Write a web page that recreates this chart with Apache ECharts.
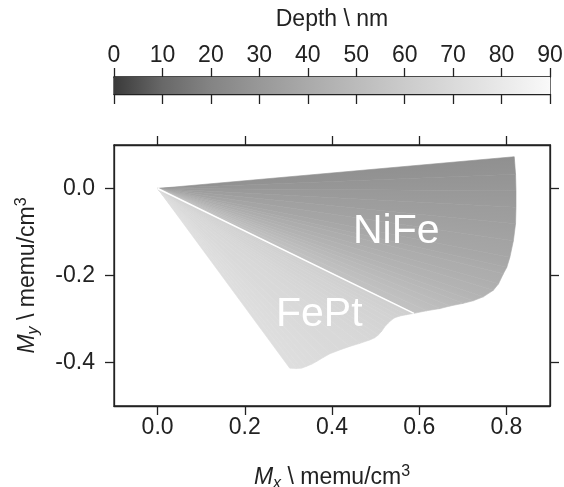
<!DOCTYPE html>
<html>
<head>
<meta charset="utf-8">
<script src="https://cdn.jsdelivr.net/npm/echarts@6/dist/echarts.min.js"></script>
<style>
  html, body { margin: 0; padding: 0; background: #fff; }
  #chart { width: 564px; height: 487px; }
</style>
</head>
<body>
<div id="chart"></div>
<script>
// Magnetisation vector tips (memu/cm3) and the depth (nm) of each layer slice.
// Every vector starts at the origin; the fan between neighbours is shaded by depth.
const nifeMx    = [0.818, 0.821, 0.822, 0.822, 0.821, 0.816, 0.808, 0.801, 0.793, 0.782, 0.770, 0.747, 0.724, 0.701, 0.671, 0.648, 0.617, 0.588];
const nifeMy    = [0.073, 0.033, -0.005, -0.043, -0.081, -0.120, -0.158, -0.181, -0.196, -0.219, -0.234, -0.249, -0.258, -0.264, -0.270, -0.276, -0.281, -0.287];
const nifeDepth = [26, 28, 30, 32, 34, 36, 38, 39.5, 41, 42.5, 44, 45.5, 47, 48.5, 50, 51.5, 53, 54.5];

const feptMx    = [0.588, 0.571, 0.556, 0.544, 0.537, 0.529, 0.521, 0.514, 0.506, 0.498, 0.487, 0.464, 0.441, 0.418, 0.395, 0.379, 0.364, 0.353, 0.341, 0.330, 0.318, 0.303];
const feptMy    = [-0.287, -0.290, -0.293, -0.297, -0.302, -0.309, -0.318, -0.328, -0.337, -0.343, -0.348, -0.356, -0.363, -0.371, -0.380, -0.389, -0.398, -0.404, -0.409, -0.413, -0.414, -0.413];
const feptDepth = [63, 63.5, 64, 64.5, 65, 65.5, 66, 66.5, 67, 67.5, 68, 68.5, 69, 69.5, 70, 70.5, 71, 71.5, 72, 72, 72.5, 72.5];

// Axis ticks
const xTicks = [0.0, 0.2, 0.4, 0.6, 0.8];
const yTicks = [-0.4, -0.2, 0.0];
const depthMin = 0, depthMax = 90, depthStep = 10;

// Grey colour scale for depth
const greyStops = [
  [0, '#3a3a3a'], [10, '#686868'], [20, '#848484'], [30, '#989898'], [40, '#aaaaaa'],
  [50, '#bbbbbb'], [60, '#cbcbcb'], [70, '#dadada'], [80, '#e9e9e9'], [90, '#f9f9f9']
];

function hexToRgb(h) {
  return [parseInt(h.slice(1, 3), 16), parseInt(h.slice(3, 5), 16), parseInt(h.slice(5, 7), 16)];
}
function depthColor(d) {
  for (let i = 0; i < greyStops.length - 1; i++) {
    const [d0, c0] = greyStops[i], [d1, c1] = greyStops[i + 1];
    if (d <= d1 || i === greyStops.length - 2) {
      const t = Math.max(0, Math.min(1, (d - d0) / (d1 - d0)));
      const a = hexToRgb(c0), b = hexToRgb(c1);
      const v = a.map((x, k) => Math.round(x + (b[k] - x) * t));
      return 'rgb(' + v.join(',') + ')';
    }
  }
}

// Neighbouring vector pairs -> wedge items [x1, y1, x2, y2, d1, d2]
function wedges(mx, my, depth) {
  const out = [];
  for (let i = 0; i < mx.length - 1; i++) {
    out.push([mx[i], my[i], mx[i + 1], my[i + 1], depth[i], depth[i + 1]]);
  }
  return out;
}
const wedgeData = wedges(nifeMx, nifeMy, nifeDepth).concat(wedges(feptMx, feptMy, feptDepth));

function renderWedge(params, api) {
  const o = api.coord([0, 0]);
  const a = api.coord([api.value(0), api.value(1)]);
  const b = api.coord([api.value(2), api.value(3)]);
  const c1 = depthColor(api.value(4)), c2 = depthColor(api.value(5));
  const ax = a[0] - o[0], ay = a[1] - o[1], bx = b[0] - o[0], by = b[1] - o[1];
  let ux = ax + bx, uy = ay + by;
  const ul = Math.hypot(ux, uy) || 1;
  ux /= ul; uy /= ul;
  const nx = -uy, ny = ux;
  const ta = ax * nx + ay * ny, tb = bx * nx + by * ny;
  const fill = new echarts.graphic.LinearGradient(
    o[0] + ta * nx, o[1] + ta * ny, o[0] + tb * nx, o[1] + tb * ny,
    [{ offset: 0, color: c1 }, { offset: 1, color: c2 }], true);
  return {
    type: 'polygon',
    shape: { points: [o, a, b] },
    style: { fill: fill, stroke: fill, lineWidth: 0.6 }
  };
}

function renderColorbar(params, api) {
  const p0 = api.coord([depthMin, 0]);
  const p1 = api.coord([depthMax, 1]);
  const stops = greyStops.map(s => ({ offset: (s[0] - depthMin) / (depthMax - depthMin), color: s[1] }));
  return {
    type: 'rect',
    shape: { x: p0[0], y: p1[1], width: p1[0] - p0[0], height: p0[1] - p1[1] },
    style: { fill: new echarts.graphic.LinearGradient(0, 0, 1, 0, stops) }
  };
}

const FONT = 'Liberation Sans';
const INK = '#222';
const FS = 23;
const fmt1 = v => (Math.abs(v) < 1e-9 ? 0 : v).toFixed(1);

const titleRich = {
  i: { fontSize: FS, fontStyle: 'italic', fontFamily: FONT, color: INK, lineHeight: 28 },
  n: { fontSize: FS, fontFamily: FONT, color: INK, lineHeight: 28 },
  sub: { fontSize: 16, fontStyle: 'italic', fontFamily: FONT, color: INK, lineHeight: 15, verticalAlign: 'bottom' },
  sup: { fontSize: 16, fontFamily: FONT, color: INK, lineHeight: 15, verticalAlign: 'top' }
};

const lineStyle = { color: INK, width: 1.3 };

const chart = echarts.init(document.getElementById('chart'), null, { renderer: 'canvas' });

const option = {
  animation: false,
  backgroundColor: '#fff',
  textStyle: { fontFamily: FONT },
  grid: [
    { left: 114, top: 145, width: 436, height: 261, outerBoundsMode: 'none', containLabel: false, show: true, borderColor: INK, borderWidth: 1.3, backgroundColor: 'transparent' },
    { left: 114, top: 77, width: 436, height: 17, outerBoundsMode: 'none', containLabel: false, show: true, borderColor: INK, borderWidth: 1.3, backgroundColor: 'transparent' }
  ],
  xAxis: [
    {
      type: 'value', gridIndex: 0, position: 'bottom', min: -0.1, max: 0.9,
      name: '{i|M}{sub|x}{n| \\ memu/cm}{sup|3}', nameLocation: 'middle', nameGap: 58,
      nameTextStyle: { rich: titleRich },
      axisLine: { show: true, onZero: false, lineStyle: lineStyle },
      axisTick: { show: true, inside: false, length: 9, customValues: xTicks, lineStyle: lineStyle },
      axisLabel: { show: true, customValues: xTicks, formatter: fmt1, fontSize: FS, color: INK, margin: 10, fontFamily: FONT },
      splitLine: { show: false }
    },
    {
      type: 'value', gridIndex: 0, position: 'top', min: -0.1, max: 0.9,
      axisLine: { show: true, onZero: false, lineStyle: lineStyle },
      axisTick: { show: true, inside: false, length: 9, customValues: xTicks, lineStyle: lineStyle },
      axisLabel: { show: false },
      splitLine: { show: false }
    },
    {
      type: 'value', gridIndex: 1, position: 'top', min: depthMin, max: depthMax, interval: depthStep,
      name: 'Depth \\ nm', nameLocation: 'middle', nameGap: 46,
      nameTextStyle: { fontSize: FS, color: INK, fontFamily: FONT },
      axisLine: { show: true, onZero: false, lineStyle: lineStyle },
      axisTick: { show: true, inside: false, length: 9, lineStyle: lineStyle },
      axisLabel: { show: true, fontSize: FS, color: INK, margin: 10, fontFamily: FONT },
      splitLine: { show: false }
    },
    {
      type: 'value', gridIndex: 1, position: 'bottom', min: depthMin, max: depthMax, interval: depthStep,
      axisLine: { show: true, onZero: false, lineStyle: lineStyle },
      axisTick: { show: true, inside: false, length: 10, lineStyle: lineStyle },
      axisLabel: { show: false },
      splitLine: { show: false }
    }
  ],
  yAxis: [
    {
      type: 'value', gridIndex: 0, position: 'left', min: -0.5, max: 0.1,
      name: '{i|M}{sub|y}{n| \\ memu/cm}{sup|3}', nameLocation: 'middle', nameGap: 72, nameRotate: 90,
      nameTextStyle: { rich: titleRich },
      axisLine: { show: true, onZero: false, lineStyle: lineStyle },
      axisTick: { show: true, inside: false, length: 9, customValues: yTicks, lineStyle: lineStyle },
      axisLabel: { show: true, customValues: yTicks, formatter: fmt1, fontSize: FS, color: INK, margin: 19, fontFamily: FONT },
      splitLine: { show: false }
    },
    {
      type: 'value', gridIndex: 0, position: 'right', min: -0.5, max: 0.1,
      axisLine: { show: true, onZero: false, lineStyle: lineStyle },
      axisTick: { show: true, inside: false, length: 9, customValues: yTicks, lineStyle: lineStyle },
      axisLabel: { show: false },
      splitLine: { show: false }
    },
    {
      type: 'value', gridIndex: 1, min: 0, max: 1, show: false
    }
  ],
  series: [
    {
      name: 'magnetisation fan',
      type: 'custom',
      xAxisIndex: 0, yAxisIndex: 0,
      renderItem: renderWedge,
      encode: { x: [0, 2], y: [1, 3] },
      data: wedgeData,
      silent: true,
      z: 2
    },
    {
      name: 'interface',
      type: 'line',
      xAxisIndex: 0, yAxisIndex: 0,
      data: [[0, 0], [nifeMx[nifeMx.length - 1], nifeMy[nifeMy.length - 1]]],
      showSymbol: false,
      lineStyle: { color: '#ffffff', width: 1.6 },
      silent: true,
      z: 3
    },
    {
      name: 'colorbar',
      type: 'custom',
      xAxisIndex: 2, yAxisIndex: 2,
      renderItem: renderColorbar,
      encode: { x: 0, y: 1 },
      data: [[depthMin, 0]],
      silent: true,
      z: 1
    }
  ],
  graphic: [
    { type: 'text', left: 353, top: 211, z: 10, style: { text: 'NiFe', fontSize: 41, fontFamily: FONT, fill: '#ffffff' } },
    { type: 'text', left: 276, top: 294, z: 10, style: { text: 'FePt', fontSize: 41, fontFamily: FONT, fill: '#ffffff' } }
  ]
};

chart.setOption(option);
</script>
</body>
</html>
